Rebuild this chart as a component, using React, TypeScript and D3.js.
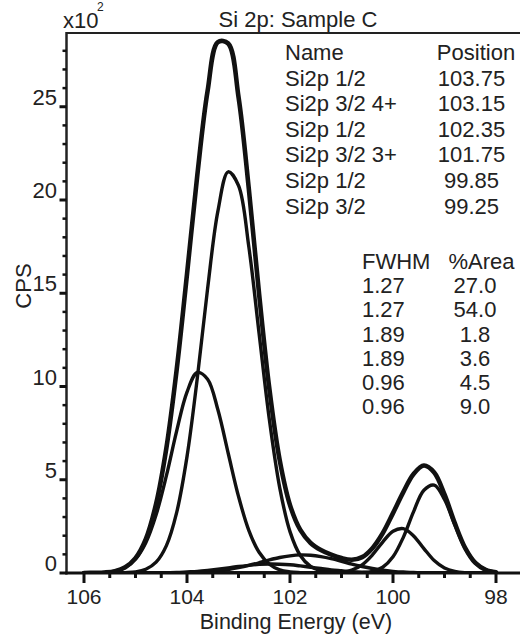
import React from "react";
import * as d3 from "d3";

// Binding energy grid (eV)
const energy = [
  106.0, 105.8, 105.6, 105.4, 105.2, 105.0, 104.8, 104.6, 104.4, 104.2,
  104.0, 103.8, 103.6, 103.4, 103.2, 103.0, 102.8, 102.6, 102.4, 102.2,
  102.0, 101.8, 101.6, 101.4, 101.2, 101.0, 100.8, 100.6, 100.4, 100.2,
  100.0, 99.8, 99.6, 99.4, 99.2, 99.0, 98.8, 98.6, 98.4, 98.2, 98.0,
];

// CPS (x10^2)
const envelope = [
  0.0, 0.01, 0.03, 0.1, 0.31, 0.8, 1.82, 3.71, 6.71, 10.91,
  16.02, 21.33, 25.85, 28.47, 28.39, 25.53, 20.61, 14.96, 9.86, 6.05,
  3.64, 2.31, 1.61, 1.23, 0.98, 0.8, 0.71, 0.85, 1.33, 2.13,
  3.21, 4.34, 5.31, 5.76, 5.39, 4.21, 2.67, 1.35, 0.54, 0.17, 0.04,
];
const si4Half = [
  0, 0.01, 0.03, 0.1, 0.29, 0.74, 1.62, 3.12, 5.22, 7.62,
  9.7, 10.75, 10.39, 8.75, 6.42, 4.11, 2.29, 1.11, 0.47, 0.17,
  0.06, 0.02, 0, 0, 0, 0, 0, 0, 0, 0,
  0, 0, 0, 0, 0, 0, 0, 0, 0, 0, 0,
];
const si4ThreeHalf = [
  0, 0, 0, 0, 0.02, 0.06, 0.2, 0.58, 1.47, 3.25,
  6.24, 10.45, 15.25, 19.4, 21.51, 20.78, 17.5, 12.84, 8.21, 4.58,
  2.22, 0.94, 0.35, 0.11, 0.03, 0.01, 0, 0, 0, 0,
  0, 0, 0, 0, 0, 0, 0, 0, 0, 0, 0,
];
const si3Half = [
  0, 0, 0, 0, 0, 0, 0, 0.01, 0.02, 0.03,
  0.06, 0.09, 0.14, 0.2, 0.27, 0.35, 0.41, 0.46, 0.48, 0.47,
  0.44, 0.38, 0.31, 0.24, 0.17, 0.12, 0.07, 0.04, 0.03, 0.01,
  0.01, 0, 0, 0, 0, 0, 0, 0, 0, 0, 0,
];
const si3ThreeHalf = [
  0, 0, 0, 0, 0, 0, 0, 0, 0, 0.01,
  0.02, 0.04, 0.07, 0.12, 0.19, 0.29, 0.41, 0.55, 0.7, 0.83,
  0.92, 0.97, 0.95, 0.88, 0.77, 0.63, 0.48, 0.35, 0.24, 0.15,
  0.09, 0.05, 0.03, 0.01, 0.01, 0, 0, 0, 0, 0, 0,
];
const si0Half = [
  0, 0, 0, 0, 0, 0, 0, 0, 0, 0,
  0, 0, 0, 0, 0, 0, 0, 0, 0, 0,
  0, 0, 0, 0, 0.01, 0.04, 0.16, 0.44, 0.97, 1.66,
  2.24, 2.38, 1.99, 1.31, 0.67, 0.27, 0.09, 0.02, 0, 0, 0,
];
const si0ThreeHalf = [
  0, 0, 0, 0, 0, 0, 0, 0, 0, 0,
  0, 0, 0, 0, 0, 0, 0, 0, 0, 0,
  0, 0, 0, 0, 0, 0, 0, 0.02, 0.09, 0.31,
  0.87, 1.91, 3.29, 4.44, 4.71, 3.94, 2.58, 1.33, 0.54, 0.17, 0.04,
];

// Table text
const compNames = ["Si2p 1/2", "Si2p 3/2 4+", "Si2p 1/2", "Si2p 3/2 3+", "Si2p 1/2", "Si2p 3/2"];
const compPositions = ["103.75", "103.15", "102.35", "101.75", "99.85", "99.25"];
const compFwhm = ["1.27", "1.27", "1.89", "1.89", "0.96", "0.96"];
const compArea = ["27.0", "54.0", "1.8", "3.6", "4.5", "9.0"];

const xMajorTicks = [106, 104, 102, 100, 98];
const yMajorTicks = [0, 5, 10, 15, 20, 25];

const FONT = "'Liberation Sans', Arial, sans-serif";

export default function App() {
  const W = 520;
  const H = 638;
  const left = 66.5;
  const top = 33;
  const right = 520;
  const bottom = 573;

  const x = d3.scaleLinear().domain([106, 98]).range([84, 496]);
  const y = d3.scaleLinear().domain([0, 25]).range([573, 573 - 25 * 18.65]);

  const line = (vals: number[]) =>
    d3
      .line<number>()
      .x((_, i) => x(energy[i]))
      .y((v) => y(v))
      .curve(d3.curveCatmullRom.alpha(0.5))(vals) || "";

  const components = [si4Half, si4ThreeHalf, si3Half, si3ThreeHalf, si0Half, si0ThreeHalf];

  const xMinor = d3.range(106, 97.9, -0.5);
  const yMinor = d3.range(0, 29, 1);

  return (
    <svg
      width={W}
      height={H}
      style={{ position: "absolute", left: 0, top: 0, background: "#fff" }}
      fontFamily={FONT}
    >
      <defs>
        <clipPath id="plotClip">
          <rect x={left} y={top} width={right - left} height={bottom - top} />
        </clipPath>
      </defs>
      <rect x={0} y={0} width={W} height={H} fill="#fff" />

      {/* curves */}
      <g clipPath="url(#plotClip)" fill="none" stroke="#111" strokeLinejoin="round" strokeLinecap="round">
        {components.map((c, i) => (
          <path key={i} d={line(c)} strokeWidth={3.4} />
        ))}
        <path d={line(envelope)} strokeWidth={4.6} />
      </g>

      {/* frame */}
      <line x1={left} x2={right} y1={top} y2={top} stroke="#222" strokeWidth={2} />
      <line x1={left} x2={left} y1={top - 1} y2={bottom + 1.5} stroke="#222" strokeWidth={2.5} />
      <line x1={left - 1} x2={right} y1={bottom} y2={bottom} stroke="#111" strokeWidth={3} />

      {/* x ticks */}
      {xMinor.map((t) => {
        const major = Math.abs(t - Math.round(t)) < 1e-6 && Math.round(t) % 2 === 0;
        return (
          <line key={"xt" + t} x1={x(t)} x2={x(t)} y1={bottom} y2={bottom + (major ? 10 : 5)} stroke="#111" strokeWidth={3} />
        );
      })}
      {xMajorTicks.map((t) => (
        <text key={"xl" + t} x={x(t)} y={604} textAnchor="middle" fontSize={21} fill="#222">
          {t}
        </text>
      ))}

      {/* y ticks */}
      {yMinor.map((t) => {
        const major = t % 5 === 0;
        return (
          <line key={"yt" + t} x1={left - (major ? 7 : 4)} x2={left} y1={y(t)} y2={y(t)} stroke="#111" strokeWidth={major ? 3 : 2.5} />
        );
      })}
      {yMajorTicks.map((t) => (
        <text key={"yl" + t} x={57} y={y(t) - 2} textAnchor="end" fontSize={22} fill="#222">
          {t}
        </text>
      ))}

      {/* axis titles */}
      <text x={296} y={628.5} textAnchor="middle" fontSize={21.5} fill="#222">
        Binding Energy (eV)
      </text>
      <text transform="translate(31,286) rotate(-90)" textAnchor="middle" fontSize={22} fill="#222">
        CPS
      </text>
      <text x={63} y={28} fontSize={22} fill="#222">
        x10
      </text>
      <text x={97} y={11} fontSize={12} fill="#222">
        2
      </text>
      <text x={298} y={27} textAnchor="middle" fontSize={22} fill="#222">
        Si 2p: Sample C
      </text>

      {/* component table */}
      <g fontSize={22} fill="#222">
        <text x={285} y={60}>Name</text>
        <text x={476} y={60} textAnchor="middle">Position</text>
        {compNames.map((n, i) => (
          <text key={"n" + i} x={285} y={60 + 25.6 * (i + 1)}>
            {n}
          </text>
        ))}
        {compPositions.map((p, i) => (
          <text key={"p" + i} x={471.5} y={60 + 25.6 * (i + 1)} textAnchor="middle">
            {p}
          </text>
        ))}
        <text x={362} y={269}>FWHM</text>
        <text x={481.5} y={269} textAnchor="middle">%Area</text>
        {compFwhm.map((f, i) => (
          <text key={"f" + i} x={362} y={269 + 24.2 * (i + 1)}>
            {f}
          </text>
        ))}
        {compArea.map((a, i) => (
          <text key={"a" + i} x={475} y={269 + 24.2 * (i + 1)} textAnchor="middle">
            {a}
          </text>
        ))}
      </g>
    </svg>
  );
}
